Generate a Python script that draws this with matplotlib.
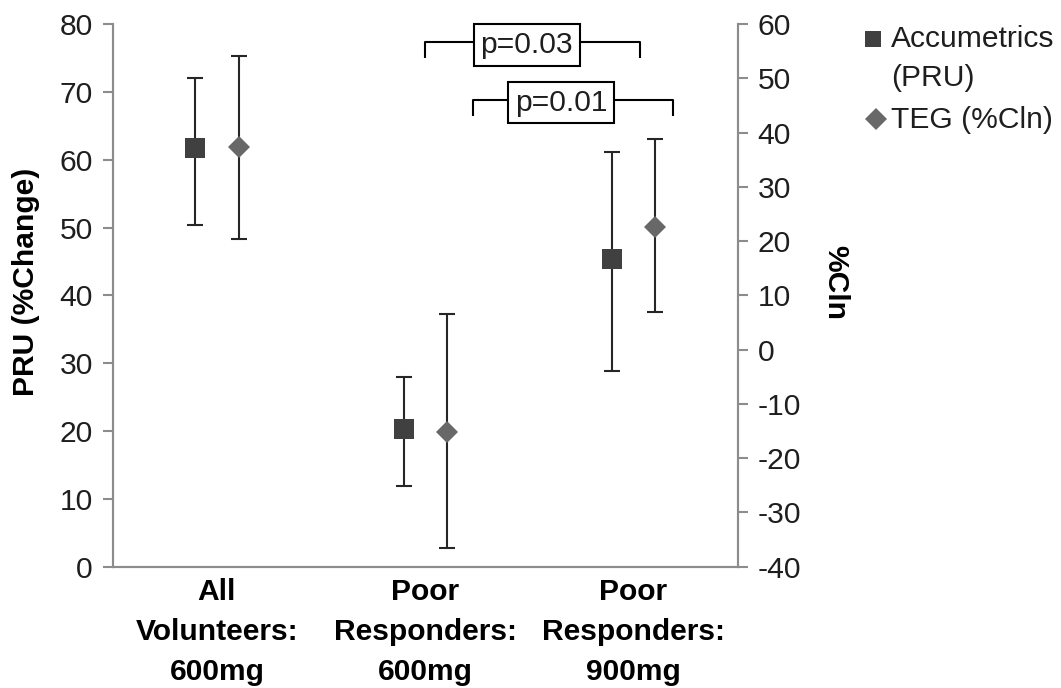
import matplotlib
matplotlib.use("Agg")
import matplotlib.pyplot as plt
from matplotlib.lines import Line2D
import numpy as np

plt.rcParams['font.family'] = ['Liberation Sans', 'DejaVu Sans']
plt.rcParams['axes.unicode_minus'] = False

# Categories (x axis)
categories = ["All\nVolunteers:\n600mg", "Poor\nResponders:\n600mg", "Poor\nResponders:\n900mg"]

# Accumetrics (PRU, % change) - left axis
pru_mean = [61.7, 20.3, 45.4]
pru_low = [50.4, 11.9, 28.8]
pru_high = [72.0, 28.0, 61.2]

# TEG (%Cln) - right axis
cln_mean = [37.3, -15.1, 22.6]
cln_low = [20.4, -36.6, 7.0]
cln_high = [54.1, 6.6, 38.75]

# Significance annotations: (label, left x, right x, bar height, drop end) in PRU units
sig_labels = ["p=0.03", "p=0.01"]
sig_x0 = [1.0, 1.23]
sig_x1 = [2.03, 2.19]
sig_bar = [77.3, 68.8]
sig_end = [75.0, 66.5]
sig_box_x = [1.488, 1.653]

FS = 21.6
SPINE = '#8c8c8c'
TXT = '#1e1e1e'
C_SQ = '#404040'
C_DI = '#686868'
C_ERR = '#262626'

fig = plt.figure(figsize=(10.61, 6.88), dpi=100)
ax = fig.add_axes([0.1062, 0.1763, 0.5891, 0.7888])
ax2 = ax.twinx()

x = np.arange(len(categories))
off = 0.104

pm = np.array(pru_mean)
ax.errorbar(x - off, pm, yerr=[pm - np.array(pru_low), np.array(pru_high) - pm],
            fmt='none', ecolor=C_ERR, elinewidth=1.5, capsize=6.1, capthick=1.5, zorder=2)
ax.plot(x - off, pm, 's', color=C_SQ, ms=14.4, mew=0, zorder=3)

cm = np.array(cln_mean)
ax2.errorbar(x + off, cm, yerr=[cm - np.array(cln_low), np.array(cln_high) - cm],
             fmt='none', ecolor=C_ERR, elinewidth=1.5, capsize=6.1, capthick=1.5, zorder=2)
ax2.plot(x + off, cm, 'D', color=C_DI, ms=10.7, mew=0, zorder=3)

ax.set_xlim(-0.5, 2.5)
ax.set_ylim(0, 80)
ax2.set_ylim(-40, 60)
ax.set_yticks(np.arange(0, 81, 10))
ax2.set_yticks(np.arange(-40, 61, 10))

ax.set_xticks(x)
ax.set_xticklabels(categories, fontsize=FS, fontweight='bold', linespacing=1.55, color='black')
ax.tick_params(axis='x', length=0, pad=8)
ax.tick_params(axis='y', direction='out', length=7.2, width=1.5, color=SPINE,
               labelsize=FS, labelcolor=TXT, pad=7)
ax2.tick_params(axis='y', direction='out', length=7.2, width=1.5, color=SPINE,
                labelsize=FS, labelcolor=TXT, pad=7)

for a in (ax, ax2):
    a.spines['top'].set_visible(False)
    for s in ('left', 'right', 'bottom'):
        a.spines[s].set_color(SPINE)
        a.spines[s].set_linewidth(1.5)

# Significance brackets
for lab, x0, x1, yb, ye, bx in zip(sig_labels, sig_x0, sig_x1, sig_bar, sig_end, sig_box_x):
    ax.plot([x0, x0, x1, x1], [ye, yb, yb, ye], color='black', lw=1.5,
            clip_on=False, zorder=4, solid_capstyle='butt')
    ax.text(bx, yb - 0.4, lab, fontsize=FS, color=TXT, ha='center', va='center', zorder=5,
            clip_on=False,
            bbox=dict(boxstyle='square,pad=0.22', fc='white', ec='black', lw=1.5))

# Axis titles
fig.text(26 / 1061, 1 - 282 / 688, "PRU (%Change)", rotation=90, fontsize=FS,
         fontweight='bold', ha='center', va='center', color='black')
fig.text(835 / 1061, 1 - 283 / 688, "%Cln", rotation=270, fontsize=FS,
         fontweight='bold', ha='center', va='center', color='black')

# Legend
W, H = 1061, 688
fig.add_artist(Line2D([873 / W], [1 - 39 / H], marker='s', ms=12.2, color=C_SQ, mew=0,
                      transform=fig.transFigure))
fig.add_artist(Line2D([875.5 / W], [1 - 118.5 / H], marker='D', ms=10.7, color=C_DI, mew=0,
                      transform=fig.transFigure))
fig.text(891 / W, 1 - 46.7 / H, "Accumetrics", fontsize=FS, color=TXT, va='baseline', ha='left')
fig.text(891 / W, 1 - 86 / H, "(PRU)", fontsize=FS, color=TXT, va='baseline', ha='left')
fig.text(891 / W, 1 - 128 / H, "TEG (%Cln)", fontsize=FS, color=TXT, va='baseline', ha='left')

fig.savefig("out.png", dpi=100)
